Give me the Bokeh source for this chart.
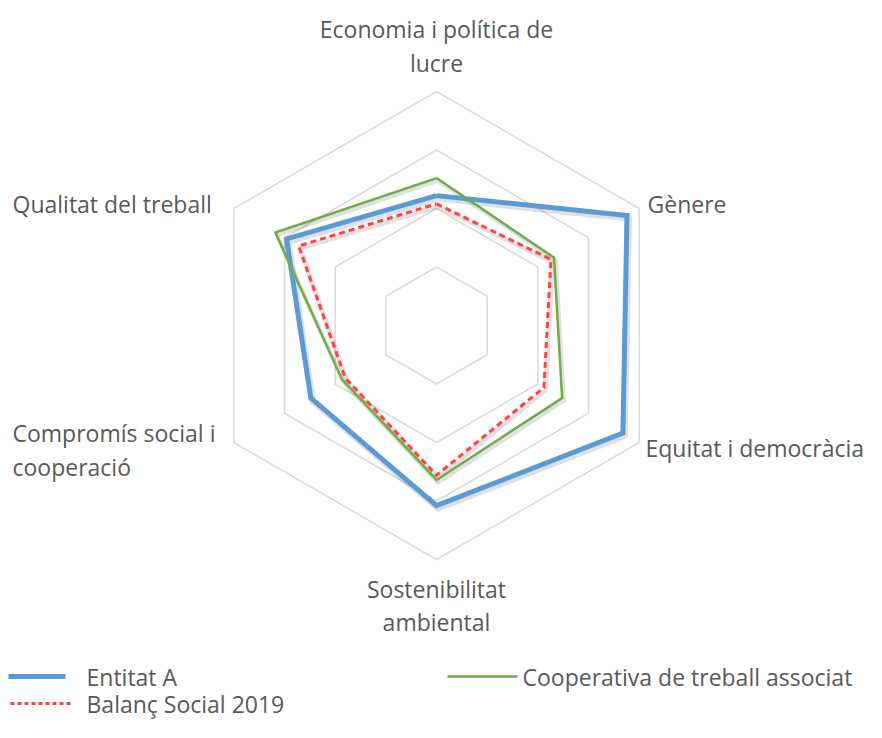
import numpy as np
from bokeh.plotting import figure
from bokeh.models import Range1d
from bokeh.core.properties import value
from bokeh.embed import file_html
from bokeh.resources import INLINE

# ---- data ----
categories = ["Economia i política de lucre", "Gènere", "Equitat i democràcia",
              "Sostenibilitat ambiental", "Compromís social i cooperació", "Qualitat del treball"]
entitat_a = [55.5, 94, 92, 77, 62, 74]
cooperativa = [63, 58, 62, 66, 46.5, 79.5]
balanc_2019 = [52, 56.5, 53, 64, 45, 68]
ring_levels = [25, 50, 75, 100]
series_names = ["Entitat A", "Cooperativa de treball associat", "Balanç Social 2019"]

# ---- layout ----
W, H = 866, 722
CX, CY = 436, 325          # centre in canvas pixels
K = 2.34                   # pixels per value unit
FONT = value("Open Sans")
FS = "23px"
TXT = "#595959"

def px(x, y):
    """canvas pixel -> data coordinates"""
    return (x - CX) / K, (CY - y) / K

x0, y_top = px(0, 0)
x1, y_bot = px(W, H)

p = figure(width=W, height=H, output_backend="svg", toolbar_location=None,
           x_range=Range1d(x0, x1), y_range=Range1d(y_bot, y_top),
           min_border=0, outline_line_color=None)
p.axis.visible = False
p.grid.visible = False
p.background_fill_color = "white"

n = len(categories)
theta = np.arange(n) * 2 * np.pi / n

def poly(vals):
    v = np.asarray(vals, dtype=float)
    xs = v * np.sin(theta)
    ys = v * np.cos(theta)
    return list(xs) + [xs[0]], list(ys) + [ys[0]]

# grid rings
for lv in ring_levels:
    xs, ys = poly([lv] * n)
    p.line(xs, ys, line_color="#d9d9d9", line_width=1.5)

# series
styles = [
    (entitat_a, "#5B9BD5", 5, "solid"),
    (cooperativa, "#70AD47", 2.5, "solid"),
    (balanc_2019, "#FF4343", 3, "6 4"),
]
sdx, sdy = 1.5 / K, -2.5 / K
for vals, col, lw, dash in styles:
    xs, ys = poly(vals)
    p.line([x + sdx for x in xs], [y + sdy for y in ys], line_color="#000000",
           line_alpha=0.12, line_width=lw + 2, line_join="round")
for vals, col, lw, dash in styles:
    xs, ys = poly(vals)
    p.line(xs, ys, line_color=col, line_width=lw, line_dash=dash, line_join="miter")

# category labels
labels = [
    (["Economia i política de", "lucre"], 436, [28, 62], "center"),
    (["Gènere"], 647, [203], "left"),
    (["Equitat i democràcia"], 645, [447], "left"),
    (["Sostenibilitat", "ambiental"], 436, [588, 621], "center"),
    (["Compromís social i", "cooperació"], 12, [432, 466], "left"),
    (["Qualitat del treball"], 12, [203], "left"),
]
for lines, lx, lys, align in labels:
    for t, ly in zip(lines, lys):
        dx, dy = px(lx, ly)
        p.text([dx], [dy], text=[t], text_font=FONT, text_font_size=FS,
               text_color=TXT, text_align=align, text_baseline="middle")

# legend
leg = [
    (series_names[0], "#5B9BD5", 5, "solid", 8, 65, 86, 676),
    (series_names[1], "#70AD47", 2.5, "solid", 447, 517, 522, 676),
    (series_names[2], "#FF4343", 3, "4 3", 10, 73, 86, 703),
]
for name, col, lw, dash, lx0, lx1, tx, ty in leg:
    ax, ay = px(lx0, ty)
    bx, _ = px(lx1, ty)
    p.line([ax, bx], [ay, ay], line_color=col, line_width=lw, line_dash=dash)
    tx_, ty_ = px(tx, ty)
    p.text([tx_], [ty_], text=[name], text_font=FONT, text_font_size=FS,
           text_color=TXT, text_align="left", text_baseline="middle")

open("out.html", "w").write(file_html(p, INLINE))
